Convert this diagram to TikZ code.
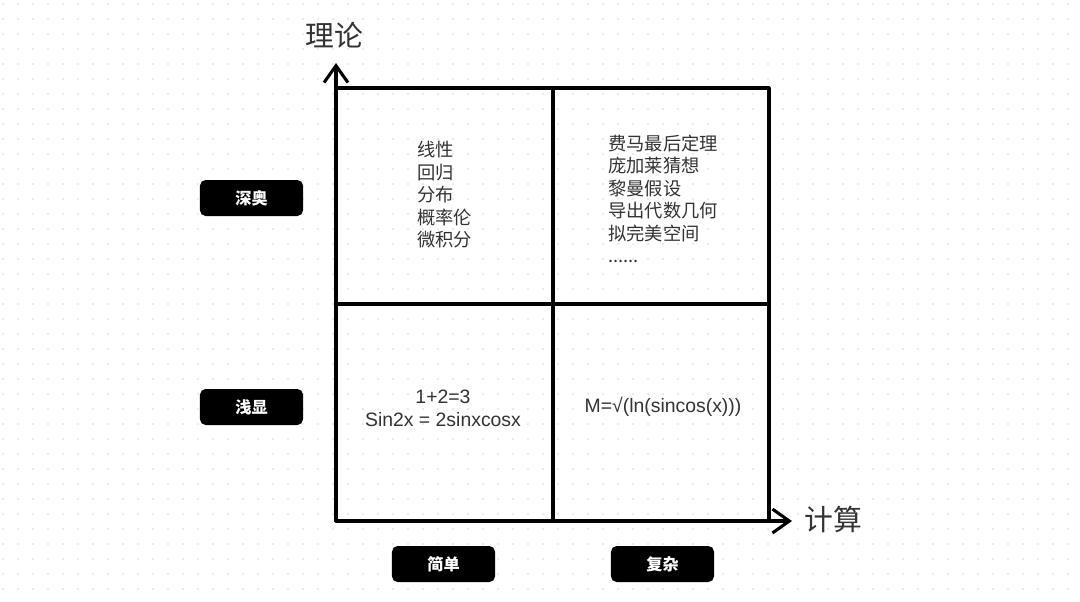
\documentclass[tikz,border=0pt]{standalone}
\usepackage{fontspec}
\setmainfont{Liberation Sans}
\newfontfamily\cjk{Noto Sans CJK SC}
\usetikzlibrary{arrows.meta,positioning}
\definecolor{txtgray}{RGB}{51,51,51}
\definecolor{dotgray}{RGB}{215,215,215}

\begin{document}
\begin{tikzpicture}[x=0.025cm,y=-0.025cm,
    axis/.style={line width=2.2pt, line cap=round, line join=round},
    tag/.style={fill=black, text=white, rounded corners=4pt, minimum width=2.575cm, minimum height=0.9cm, inner sep=0pt, font=\cjk\bfseries\fontsize{11.5}{13}\selectfont},
    cell/.style={text=txtgray, inner sep=0pt, font=\cjk\fontsize{13}{16}\selectfont},
    formula/.style={text=txtgray, inner sep=0pt, align=center, font=\fontsize{13.8}{16.5}\selectfont},
    axislabel/.style={text=txtgray, inner sep=0pt, font=\cjk\fontsize{20.5}{24}\selectfont}]
    \useasboundingbox (0,0) rectangle (1080,601);
    
    % Dotted background
    \foreach \i in {0,...,71}
        \foreach \j in {0,...,39}
            \fill[dotgray] (3+15*\i,4+15*\j) circle[radius=0.55pt];
    
    % Axes
    \coordinate (o) at (336,521);
    \coordinate (ytip) at (336,63);
    \coordinate (xtip) at (792,521);
    \draw[axis, -{Straight Barb[length=12pt,width=17pt]}] (o) -- (ytip);
    \draw[axis, -{Straight Barb[length=12pt,width=17pt]}] (o) -- (xtip);
    
    % Four quadrants
    \draw[axis] (336,88) -- (769,88) -- (769,521);
    \draw[axis] (553,88) -- (553,521);
    \draw[axis] (336,304) -- (769,304);
    
    % Axis labels
    \node[axislabel] (ylab) at (334,35) {理论};
    \node[axislabel] (xlab) at (833,519) {计算};
    
    % Black tags
    \node[tag] (deep) at (251.5,198) {深奥};
    \node[tag] (shallow) at (251.5,407) {浅显};
    \node[tag] (simple) at (443.5,564) {简单};
    \node[tag] (complex) at (662.5,564) {复杂};
    
    % Cell contents
    \node[cell, align=left, anchor=west] (ul) at (417,195) {线性\\回归\\分布\\概率伦\\微积分};
    \node[cell, align=left, anchor=west] (ur) at (608,199) {费马最后定理\\庞加莱猜想\\黎曼假设\\导出代数几何\\拟完美空间\\......};
    \node[formula] (ll) at (443,408) {1+2=3\\Sin2x = 2sinxcosx};
    \node[formula] (lr) at (663,407) {M=√(ln(sincos(x)))};
\end{tikzpicture}
\end{document}
